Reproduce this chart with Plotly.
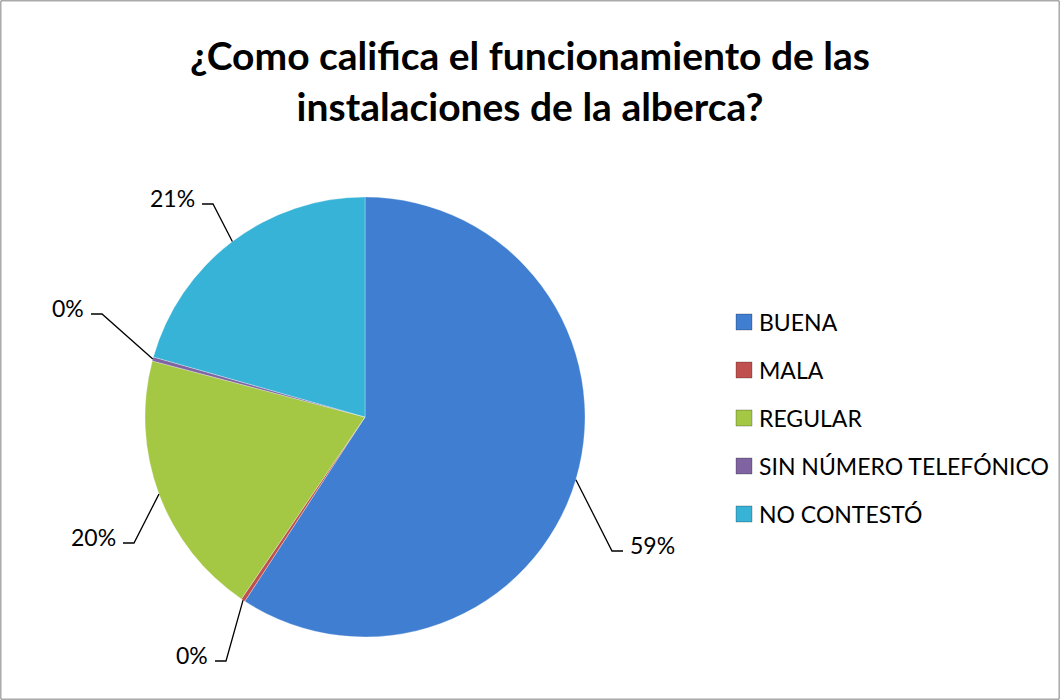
import math
import plotly.graph_objects as go

# Survey data
labels = ["BUENA", "MALA", "REGULAR", "SIN NÚMERO TELEFÓNICO", "NO CONTESTÓ"]
values = [59.2, 0.3, 19.6, 0.3, 20.6]
colors = ["#3F7ED0", "#C0504D", "#A4C744", "#8064A2", "#36B3D6"]

W, H = 1060, 700
CX, CY, R = 365, 417, 220          # pie centre / radius in pixels
TITLE = "¿Como califica el funcionamiento de las<br>instalaciones de la alberca?"
FONT = "Lato, 'Open Sans', sans-serif"

# percentage labels: x of the text edge facing the leader line, y centre, side the line leaves from
label_pos = [(628, 545, "left"), (210, 655, "right"), (118, 537, "right"),
             (86, 308, "right"), (197, 198, "right")]

# legend block (pixels)
LEG_X, LEG_Y, LEG_STEP, LEG_BOX = 736, 322, 48, 16


def px(x, y):
    return x / W, 1 - y / H


fig = go.Figure(go.Pie(
    labels=labels, values=values,
    sort=False, direction="clockwise", rotation=0,
    marker=dict(colors=colors, line=dict(color="rgba(255,255,255,0.3)", width=1)),
    textinfo="none", hoverinfo="label+percent", showlegend=False,
    domain=dict(x=[(CX - R) / W, (CX + R) / W], y=[1 - (CY + R) / H, 1 - (CY - R) / H]),
))

shapes = [dict(type="rect", xref="paper", yref="paper", x0=0.0008, y0=0.0012, x1=0.9992, y1=0.9988,
               line=dict(color="#7f7f7f", width=1))]
annotations = []

# leader lines + percentages
total = sum(values)
cum = 0
for v, (lx, ly, side) in zip(values, label_pos):
    mid = (cum + v / 2) / total * 2 * math.pi
    cum += v
    ex, ey = CX + R * math.sin(mid), CY - R * math.cos(mid)
    step = 5 if side == "right" else -5
    ky = ly + 6
    x0, y0 = px(lx + step, ky)
    x1, y1 = px(lx + 3.2 * step, ky)
    x2, y2 = px(ex, ey)
    shapes.append(dict(type="path", xref="paper", yref="paper",
                       path=f"M {x0} {y0} L {x1} {y1} L {x2} {y2}",
                       line=dict(color="black", width=1.3)))
    ax, ay = px(lx, ly)
    annotations.append(dict(x=ax, y=ay, xref="paper", yref="paper",
                            text=f"{round(v / total * 100)}%",
                            xanchor="right" if side == "right" else "left", yanchor="middle",
                            showarrow=False, font=dict(size=23, color="black", family=FONT)))

# legend
for i, (name, c) in enumerate(zip(labels, colors)):
    yc = LEG_Y + i * LEG_STEP
    bx0, by0 = px(LEG_X, yc + LEG_BOX / 2)
    bx1, by1 = px(LEG_X + LEG_BOX, yc - LEG_BOX / 2)
    shapes.append(dict(type="rect", xref="paper", yref="paper", x0=bx0, y0=by0, x1=bx1, y1=by1,
                       fillcolor=c, line=dict(color="rgba(0,0,0,0.25)", width=1)))
    tx, ty = px(LEG_X + LEG_BOX + 5, yc)
    annotations.append(dict(x=tx, y=ty, xref="paper", yref="paper", text=name,
                            xanchor="left", yanchor="middle", showarrow=False,
                            font=dict(size=23, color="black", family=FONT)))

fig.update_layout(
    width=W, height=H,
    paper_bgcolor="white", plot_bgcolor="white",
    margin=dict(l=0, r=0, t=0, b=0, autoexpand=False),
    title=dict(text=TITLE, x=0.5, xanchor="center", y=0.9, yanchor="middle",
               font=dict(size=39, color="black", family=FONT, weight="bold")),
    shapes=shapes, annotations=annotations,
)

fig.write_html("out.html", config={"displayModeBar": False},
               post_script="document.body.style.margin='0';")
